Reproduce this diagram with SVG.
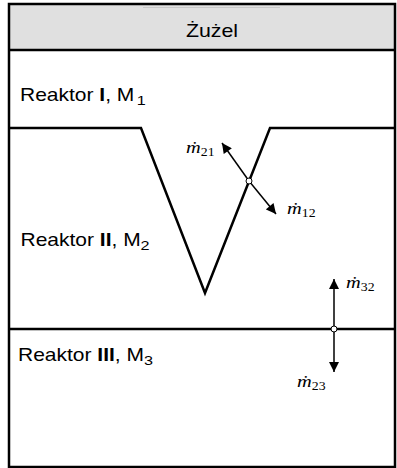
<svg xmlns="http://www.w3.org/2000/svg" width="397" height="468" viewBox="0 0 397 468">
<defs>
<style>
.lbl{font-family:"Liberation Sans",Arial,sans-serif;font-size:17.5px;fill:#000}
.b{font-weight:bold}
.s{font-size:13.5px}
.m{font-family:"Liberation Serif","Times New Roman",serif;font-size:17px;font-style:italic;fill:#000}
.sub{font-size:11.5px;font-style:normal}
.wall{fill:none;stroke:#000;stroke-width:2.5}
.flow{stroke:#000;stroke-width:1.5;fill:none}
.node{fill:#fff;stroke:#000;stroke-width:1}
</style>
<marker id="ah" viewBox="0 0 10 10" refX="10" refY="5" markerWidth="11" markerHeight="10" markerUnits="userSpaceOnUse" orient="auto">
<path d="M0,0 L10,5 L0,10 Z" fill="#000"/>
</marker>
</defs>
<rect width="397" height="468" fill="#fff"/>
<g id="header">
<rect x="9" y="4" width="386" height="46" fill="#e0e0e0"/>
<line x1="143" y1="7.5" x2="280" y2="7.5" stroke="#c8c8c8" stroke-width="1"/>
<text class="lbl" transform="translate(212,36.5) scale(1.22,1)" text-anchor="middle">Żużel</text>
</g>
<g id="reactor1">
<text class="lbl" transform="translate(20,101) scale(1.2,1)">Reaktor <tspan class="b">I</tspan>, M<tspan class="s" dx="2" dy="4">1</tspan></text>
</g>
<g id="reactor2">
<text class="lbl" transform="translate(20.5,246) scale(1.2,1)">Reaktor <tspan class="b">II</tspan>, M<tspan class="s" dy="4">2</tspan></text>
</g>
<g id="reactor3">
<text class="lbl" transform="translate(18,361) scale(1.2,1)">Reaktor <tspan class="b">III</tspan>, M<tspan class="s" dy="4">3</tspan></text>
</g>
<g id="walls">
<rect class="wall" x="9" y="4" width="386" height="463"/>
<line class="wall" x1="9" y1="50" x2="395" y2="50"/>
<polyline class="wall" points="9,128 141,128 205,293 270,128 395,128"/>
<line class="wall" x1="9" y1="329" x2="395" y2="329"/>
</g>
<g id="connectors">
<line class="flow" x1="249" y1="181" x2="222" y2="143" marker-end="url(#ah)"/>
<line class="flow" x1="249" y1="181" x2="276" y2="214" marker-end="url(#ah)"/>
<line class="flow" x1="334" y1="329" x2="334" y2="279" marker-end="url(#ah)"/>
<line class="flow" x1="334" y1="329" x2="334" y2="372" marker-end="url(#ah)"/>
</g>
<g id="junction12"><circle class="node" cx="249" cy="181" r="3"/></g>
<g id="junction23"><circle class="node" cx="334" cy="329" r="3"/></g>
<g id="labels">
<text class="m" transform="translate(186,153) scale(1.2,1)">ṁ<tspan class="sub" dy="3">21</tspan></text>
<text class="m" transform="translate(287,214) scale(1.2,1)">ṁ<tspan class="sub" dy="3">12</tspan></text>
<text class="m" transform="translate(346,288) scale(1.2,1)">ṁ<tspan class="sub" dy="3">32</tspan></text>
<text class="m" transform="translate(297,387) scale(1.2,1)">ṁ<tspan class="sub" dy="3">23</tspan></text>
</g>
</svg>
